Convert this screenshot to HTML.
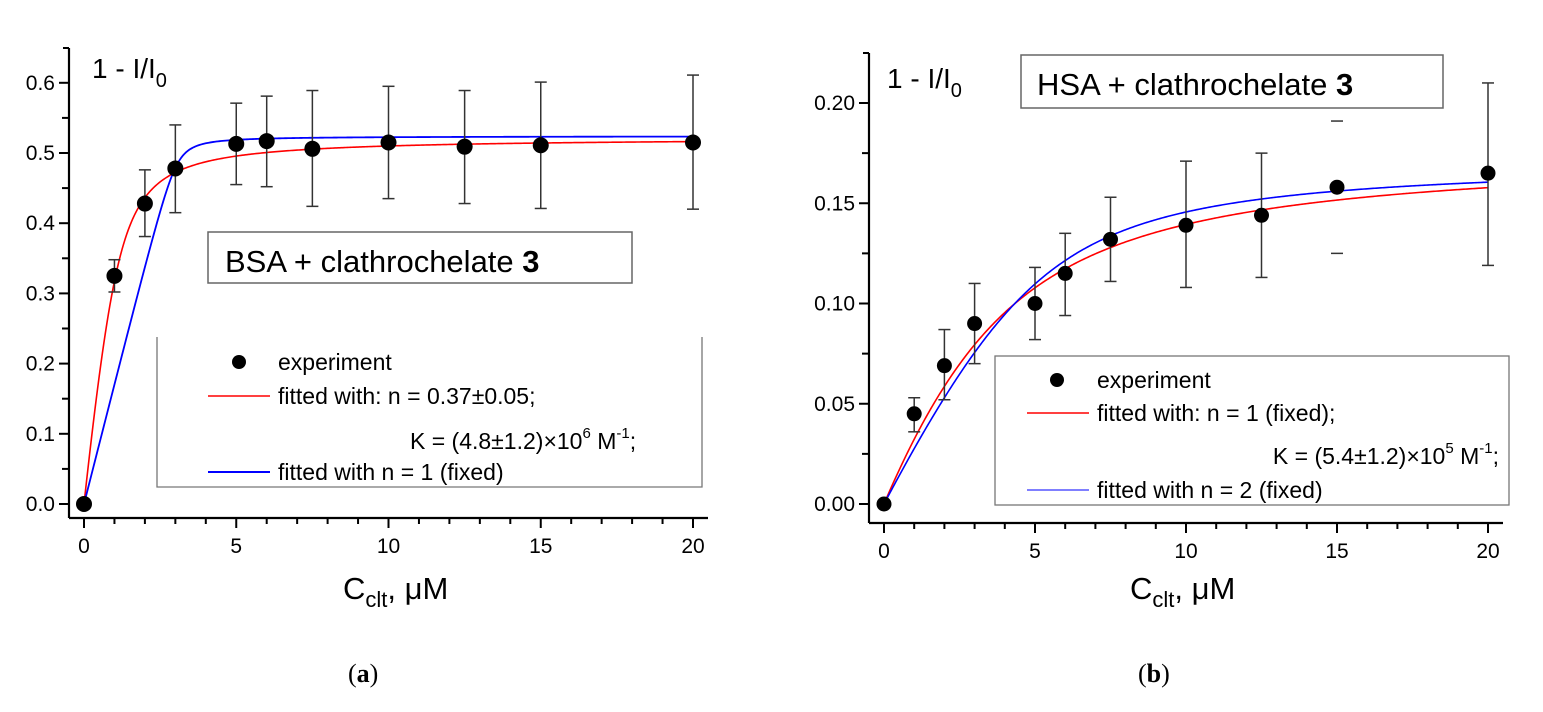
<!DOCTYPE html>
<html><head><meta charset="utf-8"><style>
html,body{margin:0;padding:0;background:#fff;}
svg{display:block;font-family:"Liberation Sans",sans-serif;}
</style></head><body>
<svg id="s" width="1543" height="712" viewBox="0 0 1543 712" xmlns="http://www.w3.org/2000/svg">
<rect x="0" y="0" width="1543" height="712" fill="#fff"/>
<g id="ga"></g>
<g id="gb"></g>
<!-- left texts -->
<text x="92" y="78" font-size="28">1 - I/I<tspan font-size="20" dy="9">0</tspan></text>
<rect x="208" y="232" width="424" height="51" fill="none" stroke="#666" stroke-width="1.5"/>
<text x="225" y="272" font-size="31">BSA + clathrochelate <tspan font-weight="bold">3</tspan></text>
<polyline points="157,337 157,487 702,487 702,337" fill="none" stroke="#777" stroke-width="1.3"/>
<circle cx="239" cy="362" r="7" fill="#000"/>
<text x="278" y="370" font-size="23">experiment</text>
<line x1="208" y1="396" x2="270" y2="396" stroke="#f00" stroke-width="1.5"/>
<text x="278" y="404" font-size="23">fitted with: n = 0.37±0.05;</text>
<text x="410" y="449" font-size="23">K = (4.8±1.2)×10<tspan font-size="15" dy="-11">6</tspan><tspan dy="11"> M</tspan><tspan font-size="15" dy="-11">-1</tspan><tspan dy="11">;</tspan></text>
<line x1="208" y1="472" x2="270" y2="472" stroke="#00f" stroke-width="2"/>
<text x="278" y="480" font-size="23">fitted with n = 1 (fixed)</text>
<text x="343" y="599" font-size="31">C<tspan font-size="22" dy="8">clt</tspan><tspan dy="-8">, μM</tspan></text>
<text x="348" y="682" font-size="26" font-family="Liberation Serif,serif">(<tspan font-weight="bold">a</tspan>)</text>
<!-- right texts -->
<text x="887" y="88" font-size="28">1 - I/I<tspan font-size="20" dy="9">0</tspan></text>
<rect x="1021" y="55" width="422" height="53" fill="none" stroke="#666" stroke-width="1.5"/>
<text x="1037" y="95" font-size="31">HSA + clathrochelate <tspan font-weight="bold">3</tspan></text>
<rect x="995" y="356" width="514" height="149" fill="none" stroke="#777" stroke-width="1.3"/>
<circle cx="1057" cy="380" r="7" fill="#000"/>
<text x="1097" y="388" font-size="23">experiment</text>
<line x1="1027" y1="413" x2="1089" y2="413" stroke="#f00" stroke-width="1.5"/>
<text x="1097" y="421" font-size="23">fitted with: n = 1 (fixed);</text>
<text x="1499" y="464" font-size="23" text-anchor="end">K = (5.4±1.2)×10<tspan font-size="15" dy="-11">5</tspan><tspan dy="11"> M</tspan><tspan font-size="15" dy="-11">-1</tspan><tspan dy="11">;</tspan></text>
<line x1="1027" y1="490" x2="1089" y2="490" stroke="#55f" stroke-width="1.5"/>
<text x="1097" y="498" font-size="23">fitted with n = 2 (fixed)</text>
<text x="1130" y="599" font-size="31">C<tspan font-size="22" dy="8">clt</tspan><tspan dy="-8">, μM</tspan></text>
<text x="1138" y="682" font-size="26" font-family="Liberation Serif,serif">(<tspan font-weight="bold">b</tspan>)</text>
</svg>
<script>
var NS="http://www.w3.org/2000/svg";
function el(g,t,a){var e=document.createElementNS(NS,t);for(var k in a)e.setAttribute(k,a[k]);g.appendChild(e);return e;}
function tb(x,P,Kd,A){var s=P+x+Kd;return A*(s-Math.sqrt(s*s-4*P*x))/(2*P);}
function plot(g,o){
 var X=function(v){return o.x0+(o.x20-o.x0)*v/20;}, Y=function(v){return o.y0-(v/o.ystep)*o.ypx;};
 o.curves.forEach(function(c){var d="";for(var i=0;i<=400;i++){var x=20*i/400;d+=(i?"L":"M")+X(x).toFixed(2)+","+Y(c.f(x)).toFixed(2);}el(g,"path",{d:d,fill:"none",stroke:c.col,"stroke-width":c.w});});
 el(g,"line",{x1:o.ax,y1:o.top,x2:o.ax,y2:o.axy,stroke:"#000","stroke-width":2.2});
 el(g,"line",{x1:o.ax,y1:o.axy,x2:o.right,y2:o.axy,stroke:"#000","stroke-width":2.2});
 el(g,"line",{x1:o.ax,y1:o.top,x2:o.ax-6,y2:o.top,stroke:"#000","stroke-width":2});
 for(var i=0;i<=o.ny*2;i++){var yy=o.y0-i*o.ypx/2;if(yy<o.top)break;var maj=i%2==0;
  el(g,"line",{x1:o.ax,y1:yy,x2:o.ax-(maj?10:7),y2:yy,stroke:"#000","stroke-width":2});
  if(maj){var t=el(g,"text",{x:o.ax-14,y:yy+7,"font-size":21,"text-anchor":"end"});t.textContent=(i/2*o.ystep).toFixed(o.dec);}}
 for(var v=0;v<=20;v++){var xx=X(v),maj=v%5==0;
  el(g,"line",{x1:xx,y1:o.axy,x2:xx,y2:o.axy+(maj?10:6),stroke:"#000","stroke-width":2});
  if(maj){var t=el(g,"text",{x:xx,y:o.axy+35,"font-size":21,"text-anchor":"middle"});t.textContent=v;}}
 o.data.forEach(function(p){var xx=X(p[0]);
  if(p[2]!=null){if(!p[4])el(g,"line",{x1:xx,y1:Y(p[2]),x2:xx,y2:Y(p[3]),stroke:"#333","stroke-width":1.5});
   el(g,"line",{x1:xx-6,y1:Y(p[2]),x2:xx+6,y2:Y(p[2]),stroke:"#333","stroke-width":1.5});
   el(g,"line",{x1:xx-6,y1:Y(p[3]),x2:xx+6,y2:Y(p[3]),stroke:"#333","stroke-width":1.5});}
  el(g,"circle",{cx:xx,cy:Y(p[1]),r:o.r,fill:"#000"});});
}
plot(document.getElementById("ga"),{x0:84,x20:693,y0:504,ystep:0.1,ypx:70.2,ax:69,axy:518,top:48,right:708,ny:6,dec:1,r:8,
 curves:[{f:function(x){return tb(x,1.11,0.21,0.522);},col:"#f00",w:1.6},{f:function(x){return tb(x,3.05,0.02,0.524);},col:"#00f",w:1.8}],
 data:[[0,0],[1,0.325,0.302,0.348],[2,0.428,0.381,0.476],[3,0.478,0.415,0.540],[5,0.513,0.455,0.571],[6,0.517,0.452,0.581],[7.5,0.506,0.424,0.589],[10,0.515,0.435,0.595],[12.5,0.509,0.428,0.589],[15,0.511,0.421,0.601],[20,0.515,0.420,0.611]]});
plot(document.getElementById("gb"),{x0:884,x20:1488,y0:504,ystep:0.05,ypx:100.25,ax:869,axy:523,top:53,right:1503,ny:4,dec:2,r:7.5,
 curves:[{f:function(x){return tb(x,3,2,0.176);},col:"#f00",w:1.6},{f:function(x){return tb(x,5,1,0.171);},col:"#00f",w:1.6}],
 data:[[0,0],[1,0.045,0.036,0.053],[2,0.069,0.052,0.087],[3,0.090,0.070,0.110],[5,0.100,0.082,0.118],[6,0.115,0.094,0.135],[7.5,0.132,0.111,0.153],[10,0.139,0.108,0.171],[12.5,0.144,0.113,0.175],[15,0.158,0.125,0.191,1],[20,0.165,0.119,0.210]]});
</script>
</body></html>
